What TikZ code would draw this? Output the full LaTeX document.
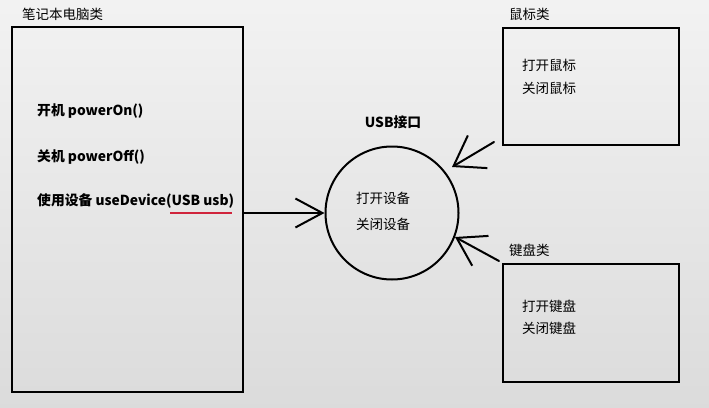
\documentclass[tikz,border=0pt]{standalone}
\usepackage{fontspec}
\setmainfont{Noto Sans CJK SC}
\usetikzlibrary{arrows.meta}
\definecolor{ulred}{HTML}{D0243C}
\tikzset{
  box/.style={draw=black, line width=2pt, inner sep=0pt},
  lbl/.style={anchor=west, inner sep=0pt, font=\fontsize{13.5}{15}\selectfont},
  blbl/.style={lbl, font=\fontsize{13.8}{15}\selectfont\bfseries},
  conn/.style={draw=black, line width=2pt, line cap=round},
}
\begin{document}
\begin{tikzpicture}[x=1pt,y=-1pt]
\shade[top color=gray!10, bottom color=gray!28] (0,0) rectangle (709,407);
\useasboundingbox (0,0) rectangle (709,407);
% laptop
\node[box, minimum width=231pt, minimum height=365pt] (laptop) at (127.5,209.5) {};
\node[lbl] (laptopT) at (22,14) {笔记本电脑类};
\node[blbl] (on) at (37,111) {开机 powerOn()};
\node[blbl] (off) at (37,157) {关机 powerOff()};
\node[blbl] (use) at (37,201) {使用设备 useDevice(USB usb)};
\coordinate (ulA) at (170,213);
\coordinate (ulB) at (232,213);
\draw[ulred, line width=1.8pt] (ulA) -- (ulB);
% usb circle
\node[draw=black, line width=2pt, circle, minimum size=133pt, inner sep=0pt] (usb) at (392,213) {};
\node[blbl, anchor=center] (usbT) at (393,122) {USB接口};
\node[lbl] (u1) at (356,198) {打开设备};
\node[lbl] (u2) at (356,224) {关闭设备};
% mouse
\node[box, minimum width=176pt, minimum height=117pt] (mouse) at (591,86.5) {};
\node[lbl] (mouseT) at (509,14) {鼠标类};
\node[lbl] (m1) at (522,65) {打开鼠标};
\node[lbl] (m2) at (522,88) {关闭鼠标};
% keyboard
\node[box, minimum width=176pt, minimum height=118pt] (kbd) at (591,323) {};
\node[lbl] (kbdT) at (509,250) {键盘类};
\node[lbl] (k1) at (522,306) {打开键盘};
\node[lbl] (k2) at (522,328) {关闭键盘};
% connectors
\draw[conn, -{Straight Barb[length=27pt, width=29pt, line width=2pt]}] (laptop.east |- usb.west) -- (usb.west);
\coordinate (mS) at (494,142);
\coordinate (mT) at (452,167);
\draw[conn, -{Straight Barb[length=28pt, width=38pt, line width=2pt]}] (mS) -- (mT);
\coordinate (kS) at (499,261);
\coordinate (kT) at (455,237);
\draw[conn, -{Straight Barb[length=27pt, width=34pt, line width=2pt]}] (kS) -- (kT);
\end{tikzpicture}
\end{document}
